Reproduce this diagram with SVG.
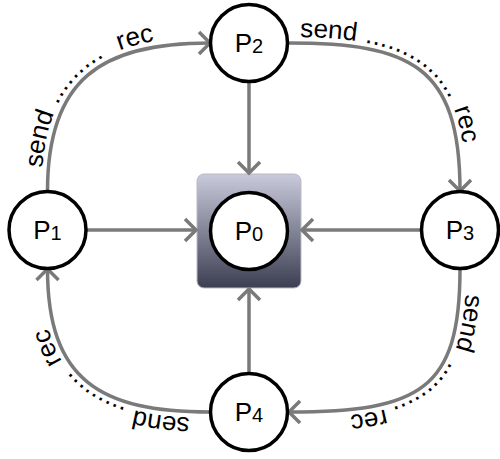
<svg xmlns="http://www.w3.org/2000/svg" width="500" height="459" viewBox="0 0 500 459">
<style>
.conn{fill:none;stroke:#7a7a7a;stroke-width:3.5}
.node circle{fill:#fff;stroke:#000;stroke-width:3.5}
.nl{font-family:"Liberation Sans",Arial,sans-serif;font-size:26px;fill:#000}
.el{font-family:"Liberation Sans",Arial,sans-serif;font-size:26px;fill:#000}
</style>
<defs>
<linearGradient id="boxg" x1="0" y1="0" x2="0" y2="1">
<stop offset="0" stop-color="#c9cbdd"/>
<stop offset="1" stop-color="#3c3f51"/>
</linearGradient>
<marker id="ah" markerUnits="userSpaceOnUse" markerWidth="30" markerHeight="30" refX="0" refY="0" orient="auto" overflow="visible">
<path d="M-11,-11 L0,0 L-11,11" fill="none" stroke="#7a7a7a" stroke-width="3.5"/>
</marker>
<path id="t1" d="M41.5,191 C41.5,76 98,37 210,37"/>
<path id="t2" d="M288,37 C411,37 466,63 466,191"/>
<path id="t3" d="M466,269 C466,393 422,418 288,418"/>
<path id="t4" d="M210,418 C98,418 41.5,383 41.5,269"/>
</defs>
<g id="box">
<rect x="197" y="174" width="104" height="114" rx="7" fill="url(#boxg)" stroke="#b9bac4" stroke-width="1"/>
</g>
<g id="connectors">
<path class="conn" marker-end="url(#ah)" d="M249,82 L249,173"/>
<path class="conn" marker-end="url(#ah)" d="M87,230 L196,230"/>
<path class="conn" marker-end="url(#ah)" d="M421,230 L302,230"/>
<path class="conn" marker-end="url(#ah)" d="M249,373 L249,289"/>
<path class="conn" marker-end="url(#ah)" d="M47.5,191 C47.5,80 100,43 210,43"/>
<path class="conn" marker-end="url(#ah)" d="M288,43 C410,43 460,65 460,191"/>
<path class="conn" marker-end="url(#ah)" d="M460,269 C460,390 420,412 289,412"/>
<path class="conn" marker-end="url(#ah)" d="M210,412 C100,412 47.5,380 47.5,269"/>
</g>
<g id="edge-labels">
<text class="el"><textPath href="#t1" startOffset="23">send</textPath></text>
<text class="el" letter-spacing="0.4"><textPath href="#t1" startOffset="88">.........</textPath></text>
<text class="el"><textPath href="#t1" startOffset="173">rec</textPath></text>
<text class="el"><textPath href="#t2" startOffset="12">send</textPath></text>
<text class="el" letter-spacing="0.4"><textPath href="#t2" startOffset="77">..............</textPath></text>
<text class="el"><textPath href="#t2" startOffset="194">rec</textPath></text>
<text class="el"><textPath href="#t3" startOffset="25">send</textPath></text>
<text class="el" letter-spacing="0.4"><textPath href="#t3" startOffset="95">..........</textPath></text>
<text class="el"><textPath href="#t3" startOffset="178">rec</textPath></text>
<text class="el"><textPath href="#t4" startOffset="20">send</textPath></text>
<text class="el" letter-spacing="0.4"><textPath href="#t4" startOffset="85">.........</textPath></text>
<text class="el"><textPath href="#t4" startOffset="166">rec</textPath></text>
</g>
<g id="P0" class="node">
<circle cx="249" cy="231" r="38.5"/>
<text class="nl" x="249" y="240" text-anchor="middle">P<tspan font-size="20" dy="1">0</tspan></text>
</g>
<g id="P1" class="node">
<circle cx="47.5" cy="230" r="38.5"/>
<text class="nl" x="47.5" y="239" text-anchor="middle">P<tspan font-size="20" dy="1">1</tspan></text>
</g>
<g id="P2" class="node">
<circle cx="249" cy="43" r="38.5"/>
<text class="nl" x="249" y="52" text-anchor="middle">P<tspan font-size="20" dy="1">2</tspan></text>
</g>
<g id="P3" class="node">
<circle cx="460" cy="230" r="38.5"/>
<text class="nl" x="460" y="239" text-anchor="middle">P<tspan font-size="20" dy="1">3</tspan></text>
</g>
<g id="P4" class="node">
<circle cx="249" cy="412" r="38.5"/>
<text class="nl" x="249" y="421" text-anchor="middle">P<tspan font-size="20" dy="1">4</tspan></text>
</g>
</svg>
